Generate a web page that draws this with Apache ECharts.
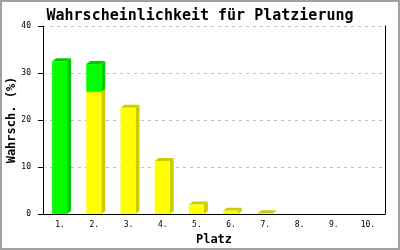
<!DOCTYPE html>
<html><head><meta charset="utf-8">
<script src="https://cdn.jsdelivr.net/npm/echarts@6/dist/echarts.min.js"></script>
<style>html,body{margin:0;padding:0;background:#fff}#c{width:400px;height:250px}</style>
</head><body><div id="c"></div>
<script>
var categories = ['1.','2.','3.','4.','5.','6.','7.','8.','9.','10.'];
var yellowValues = [0, 26.0, 22.6, 11.3, 2.0, 0.7, 0.15, 0, 0, 0];
var greenValues = [32.5, 5.9, 0, 0, 0, 0, 0, 0, 0, 0];
var yTicks = [0, 10, 20, 30, 40];

var FONT = 'DejaVu Sans Mono';
function make3D(baseArr, valArr, front, side) {
  return {
    type: 'custom',
    data: valArr.map(function (v, i) { return [i, baseArr[i], baseArr[i] + v, v]; }),
    encode: {x: 0, y: [1, 2]},
    renderItem: function (params, api) {
      var v = api.value(3);
      if (!(v > 0)) return null;
      var b = api.coord([api.value(0), api.value(1)]);
      var t = api.coord([api.value(0), api.value(2)]);
      var x0 = b[0] - 8, x1 = b[0] + 7, dx = 4, dy = 3;
      var yb = b[1], yt = t[1];
      return {type: 'group', children: [
        {type: 'polygon', shape: {points: [[x1, yb], [x1 + dx, yb - dy], [x1 + dx, yt - dy], [x1, yt]]}, style: {fill: side}},
        {type: 'polygon', shape: {points: [[x0, yt], [x0 + dx, yt - dy], [x1 + dx, yt - dy], [x1, yt]]}, style: {fill: side}},
        {type: 'rect', shape: {x: x0, y: yt, width: x1 - x0, height: yb - yt}, style: {fill: front}}
      ]};
    }
  };
}
var zeros = categories.map(function () { return 0; });
var chart = echarts.init(document.getElementById('c'));
chart.setOption({
  animation: false,
  backgroundColor: '#fff',
  title: {text: 'Wahrscheinlichkeit für Platzierung', left: 'center', top: 4,
    textStyle: {fontFamily: FONT, fontWeight: 'bold', fontSize: 15, color: '#000'}},
  grid: {left: 43, right: 15, top: 26, bottom: 36, containLabel: false, outerBoundsMode: 'none'},
  graphic: [{type: 'rect', shape: {x: 1, y: 1, width: 398, height: 248}, style: {fill: 'none', stroke: '#a0a0a0', lineWidth: 2}, silent: true}],
  xAxis: {type: 'category', data: categories, name: 'Platz', nameLocation: 'middle', nameGap: 20, nameMoveOverlap: false,
    nameTextStyle: {fontFamily: FONT, fontWeight: 'bold', fontSize: 12, color: '#000'},
    axisLine: {lineStyle: {color: '#000', width: 1}}, axisTick: {show: false},
    axisLabel: {fontFamily: FONT, fontSize: 8, color: '#000', margin: 7}},
  yAxis: [{type: 'value', min: yTicks[0], max: yTicks[yTicks.length - 1], interval: 10,
    name: 'Wahrsch. (%)', nameLocation: 'middle', nameGap: 25, nameRotate: 90, nameMoveOverlap: false,
    nameTextStyle: {fontFamily: FONT, fontWeight: 'bold', fontSize: 12, color: '#000'},
    axisLine: {show: true, lineStyle: {color: '#000'}}, axisTick: {show: true, length: 5, lineStyle: {color: '#000'}},
    axisLabel: {fontFamily: FONT, fontSize: 8, color: '#000', margin: 12},
    splitLine: {show: true, lineStyle: {color: '#c0c0c0', type: [3, 4]}}},
    {type: 'value', min: 0, max: 40, position: 'right', axisLine: {show: true, lineStyle: {color: '#000'}},
    axisTick: {show: false}, axisLabel: {show: false}, splitLine: {show: false}}],
  series: [make3D(zeros, yellowValues, '#ffff00', '#cccc00'),
           make3D(yellowValues, greenValues, '#00ff00', '#00cc00')]
});
</script></body></html>
